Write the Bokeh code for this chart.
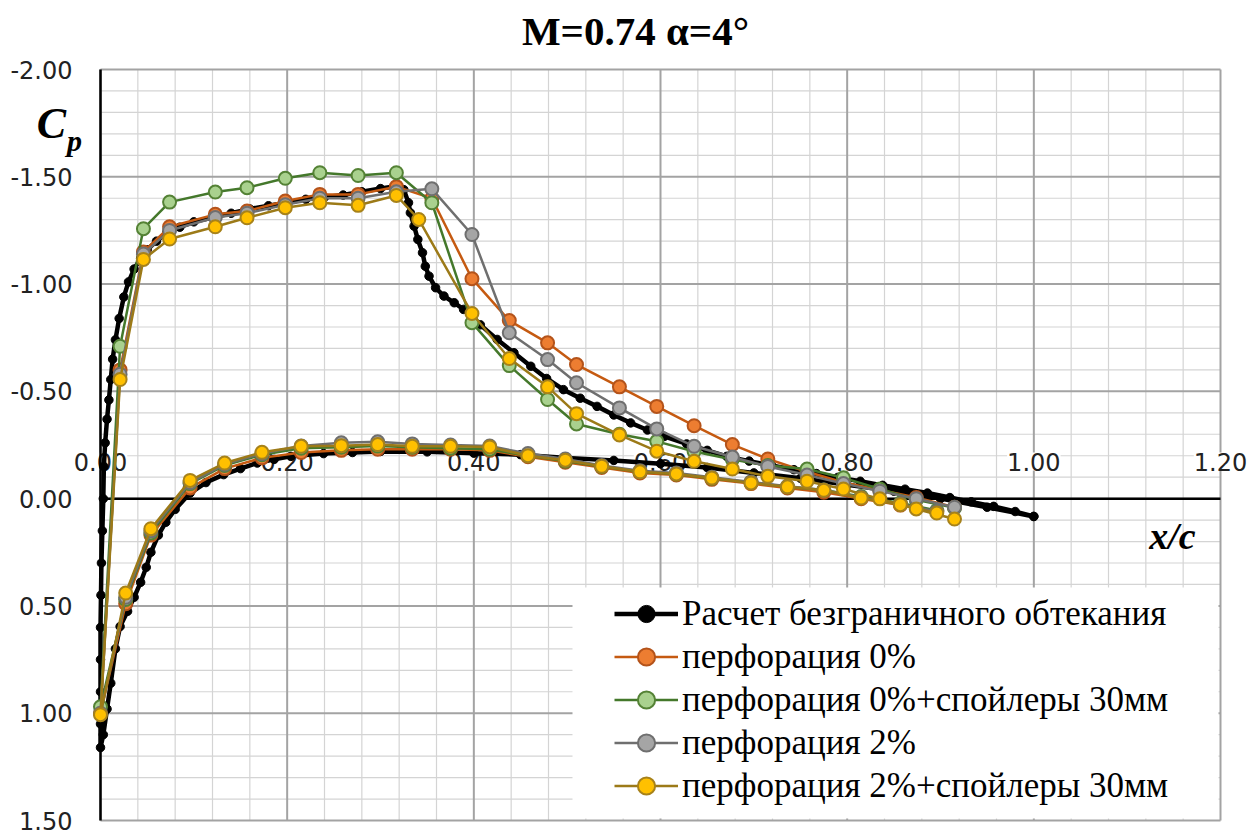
from bokeh.plotting import figure
from bokeh.models import Range1d, ColumnDataSource, Legend, LegendItem, BoxAnnotation
from bokeh.core.properties import value
from bokeh.embed import file_html
from bokeh.resources import INLINE

# ---------------- data ----------------
title_text = "M=0.74 α=4°"
x_ticks = [0.0, 0.2, 0.4, 0.6, 0.8, 1.0, 1.2]
x_tick_labels = ["0.00", "0.20", "0.40", "0.60", "0.80", "1.00", "1.20"]
x_minor = [0.04, 0.08, 0.12, 0.16, 0.24, 0.28, 0.32, 0.36, 0.44, 0.48, 0.52, 0.56,
           0.64, 0.68, 0.72, 0.76, 0.84, 0.88, 0.92, 0.96, 1.04, 1.08, 1.12, 1.16]
y_ticks = [-2.0, -1.5, -1.0, -0.5, 0.0, 0.5, 1.0, 1.5]
y_tick_labels = ["-2.00", "-1.50", "-1.00", "-0.50", "0.00", "0.50", "1.00", "1.50"]
y_minor = [-1.9, -1.8, -1.7, -1.6, -1.4, -1.3, -1.2, -1.1, -0.9, -0.8, -0.7, -0.6,
           -0.4, -0.3, -0.2, -0.1, 0.1, 0.2, 0.3, 0.4, 0.6, 0.7, 0.8, 0.9,
           1.1, 1.2, 1.3, 1.4]

series_names = ["Расчет безграничного обтекания", "перфорация 0%",
                "перфорация 0%+спойлеры 30мм", "перфорация 2%",
                "перфорация 2%+спойлеры 30мм"]

# computed (unbounded flow) - upper surface, ascending x
calc_upper_x = [0.0, 0.0, 0.0, 0.0, 0.0005, 0.001, 0.002, 0.003, 0.0036, 0.005, 0.007, 0.009,
                0.011, 0.013, 0.016, 0.02, 0.025, 0.03, 0.036, 0.043, 0.05, 0.06, 0.071, 0.085,
                0.1, 0.12, 0.14, 0.16, 0.18, 0.2, 0.22, 0.24, 0.26, 0.28, 0.3, 0.315, 0.325,
                0.33, 0.332, 0.336, 0.34, 0.345, 0.348, 0.352, 0.359, 0.368, 0.379, 0.389,
                0.407, 0.425, 0.443, 0.461, 0.478, 0.496, 0.514, 0.532, 0.55, 0.568, 0.586,
                0.604, 0.628, 0.65, 0.671, 0.695, 0.719, 0.743, 0.767, 0.79, 0.814, 0.838,
                0.862, 0.886, 0.91, 0.933, 0.957, 0.98, 1.0]
calc_upper_cp = [1.05, 0.9, 0.75, 0.6, 0.45, 0.3, 0.15, 0.0, -0.15, -0.26, -0.37, -0.46,
                 -0.555, -0.65, -0.74, -0.84, -0.94, -1.01, -1.07, -1.12, -1.16, -1.2, -1.24, -1.265,
                 -1.29, -1.31, -1.33, -1.35, -1.365, -1.38, -1.395, -1.405, -1.415, -1.43, -1.445, -1.455, -1.44,
                 -1.379, -1.332, -1.27, -1.208, -1.146, -1.083, -1.037, -0.983, -0.944, -0.913, -0.882,
                 -0.81, -0.742, -0.68, -0.617, -0.56, -0.508, -0.468, -0.43, -0.39, -0.353, -0.32,
                 -0.29, -0.255, -0.225, -0.197, -0.175, -0.155, -0.135, -0.117, -0.099, -0.081, -0.062,
                 -0.044, -0.026, -0.005, 0.015, 0.036, 0.06, 0.083]
# computed - lower surface, ascending x
calc_lower_x = [0.0, 0.003, 0.007, 0.011, 0.016, 0.021, 0.029, 0.036, 0.043, 0.049, 0.054,
                0.062, 0.07, 0.08, 0.096, 0.113, 0.132, 0.15, 0.168, 0.186, 0.204, 0.239,
                0.27, 0.3, 0.35, 0.4, 0.45, 0.5, 0.55, 0.6, 0.65, 0.7, 0.75, 0.8, 0.85,
                0.9, 0.95, 1.0]
calc_lower_cp = [1.16, 1.1, 0.98, 0.86, 0.7, 0.596, 0.525, 0.46, 0.39, 0.32, 0.25,
                 0.17, 0.11, 0.05, -0.026, -0.075, -0.112, -0.14, -0.166, -0.183, -0.197, -0.21,
                 -0.215, -0.22, -0.218, -0.212, -0.205, -0.19, -0.178, -0.163, -0.145, -0.12, -0.095,
                 -0.065, -0.035, 0.0, 0.04, 0.083]

# experiment: upper-surface taps (ascending x) and lower-surface taps (from leading edge)
upper_x = [0.021, 0.046, 0.074, 0.123, 0.157, 0.198, 0.235, 0.276, 0.317, 0.355, 0.398, 0.438,
           0.479, 0.510, 0.556, 0.596, 0.636, 0.677, 0.715, 0.757, 0.796, 0.835, 0.874, 0.915]
upper_x_p2s = [0.021, 0.046, 0.074, 0.123, 0.157, 0.198, 0.235, 0.276, 0.317, 0.341, 0.398, 0.438,
               0.479, 0.510, 0.556, 0.596, 0.636, 0.677, 0.715, 0.757, 0.796, 0.835, 0.874, 0.915]
lower_x = [0.0, 0.027, 0.054, 0.096, 0.133, 0.173, 0.215, 0.258, 0.297, 0.334, 0.375, 0.417,
           0.458, 0.498, 0.537, 0.578, 0.617, 0.655, 0.697, 0.736, 0.775, 0.815, 0.857, 0.896]

p0_upper = [-0.60, -1.15, -1.267, -1.325, -1.34, -1.387, -1.418, -1.418, -1.454, -1.40, -1.025, -0.83,
            -0.726, -0.625, -0.521, -0.43, -0.34, -0.252, -0.185, -0.125, -0.075, -0.04, -0.005, 0.04]
p0_lower = [1.0, 0.49, 0.17, -0.05, -0.14, -0.19, -0.215, -0.225, -0.23, -0.23, -0.23, -0.225,
            -0.195, -0.17, -0.145, -0.12, -0.11, -0.09, -0.07, -0.05, -0.03, 0.0, 0.03, 0.06]

p0s_upper = [-0.71, -1.258, -1.382, -1.429, -1.449, -1.493, -1.519, -1.506, -1.519, -1.379, -0.82, -0.62,
             -0.462, -0.348, -0.30, -0.267, -0.22, -0.182, -0.154, -0.138, -0.097, -0.045, 0.005, 0.043]
p0s_lower = [0.97, 0.47, 0.16, -0.07, -0.155, -0.205, -0.235, -0.24, -0.245, -0.24, -0.235, -0.23,
             -0.2, -0.175, -0.15, -0.125, -0.115, -0.095, -0.075, -0.055, -0.04, -0.01, 0.02, 0.055]

p2_upper = [-0.58, -1.14, -1.25, -1.31, -1.33, -1.37, -1.40, -1.40, -1.43, -1.444, -1.231, -0.773,
            -0.648, -0.54, -0.423, -0.325, -0.244, -0.194, -0.15, -0.11, -0.07, -0.035, 0.0, 0.04]
p2_lower = [1.0, 0.46, 0.15, -0.075, -0.16, -0.21, -0.245, -0.26, -0.265, -0.255, -0.25, -0.245,
            -0.21, -0.185, -0.155, -0.13, -0.12, -0.1, -0.078, -0.058, -0.04, -0.005, 0.025, 0.06]

p2s_upper = [-0.555, -1.115, -1.21, -1.267, -1.309, -1.356, -1.379, -1.367, -1.413, -1.301, -0.863, -0.653,
             -0.521, -0.396, -0.297, -0.221, -0.174, -0.138, -0.104, -0.081, -0.045, 0.001, 0.048, 0.095]
p2s_lower = [1.007, 0.44, 0.14, -0.085, -0.166, -0.216, -0.244, -0.247, -0.252, -0.244, -0.244, -0.241,
             -0.2, -0.179, -0.151, -0.125, -0.115, -0.096, -0.073, -0.055, -0.039, -0.003, 0.028, 0.067]

# ---------------- layout (canvas pixels) ----------------
W, H = 1259, 834
FL, FR, FT, FB = 100, 1220, 69, 820          # plot-area edges on the canvas
XMIN, XMAX = x_ticks[0], x_ticks[-1]
YMIN, YMAX = y_ticks[0], y_ticks[-1]
ppx = (FR - FL) / (XMAX - XMIN)
ppy = (FB - FT) / (YMAX - YMIN)
x_range = Range1d(XMIN - FL / ppx, XMAX + (W - FR) / ppx)
y_range = Range1d(YMAX + (H - FB) / ppy, YMIN - FT / ppy)   # reversed Cp axis


def dx(px):   # canvas px -> data x
    return XMIN + (px - FL) / ppx


def dy(py):   # canvas px -> data Cp
    return YMIN + (py - FT) / ppy


p = figure(width=W, height=H, output_backend="svg", toolbar_location=None,
           x_range=x_range, y_range=y_range,
           min_border_left=0, min_border_right=0, min_border_top=0, min_border_bottom=0)
p.xaxis.visible = False
p.yaxis.visible = False
p.xgrid.visible = False
p.ygrid.visible = False
p.outline_line_color = None
p.background_fill_color = "white"
p.border_fill_color = "white"

# grid
p.segment(x0=x_minor, y0=[YMIN] * len(x_minor), x1=x_minor, y1=[YMAX] * len(x_minor),
          line_color="#d4d4d4", line_width=1.2)
p.segment(x0=[XMIN] * len(y_minor), y0=y_minor, x1=[XMAX] * len(y_minor), y1=y_minor,
          line_color="#d4d4d4", line_width=1.2)
p.segment(x0=x_ticks, y0=[YMIN] * len(x_ticks), x1=x_ticks, y1=[YMAX] * len(x_ticks),
          line_color="#a3a3a3", line_width=2)
p.segment(x0=[XMIN] * len(y_ticks), y0=y_ticks, x1=[XMAX] * len(y_ticks), y1=y_ticks,
          line_color="#a3a3a3", line_width=2)

# x tick labels at the zero-crossing axis (above it because Cp axis is reversed)
p.text(x=x_ticks, y=[dy(461)] * len(x_ticks), text=x_tick_labels, text_align="center",
       text_baseline="middle", text_font=value("DejaVu Sans"), text_font_size="24px",
       text_color="#222222", background_fill_color="white")
# y tick labels
p.text(x=[dx(72)] * len(y_ticks), y=y_ticks, text=y_tick_labels, text_align="right",
       text_baseline="middle", text_font=value("DejaVu Sans"), text_font_size="24px",
       text_color="#222222")

# axis lines
p.segment(x0=[XMIN], y0=[YMIN], x1=[XMIN], y1=[YMAX], line_color="black", line_width=2.5)
p.segment(x0=[XMIN], y0=[0.0], x1=[XMAX], y1=[0.0], line_color="black", line_width=2.5)

# computed curve
cx = calc_upper_x[::-1] + calc_lower_x
cy = calc_upper_cp[::-1] + calc_lower_cp
calc_src = ColumnDataSource(dict(x=cx, y=cy))
r_calc_l = p.line("x", "y", source=calc_src, line_color="black", line_width=4.5)
r_calc_s = p.scatter("x", "y", source=calc_src, size=8.5, fill_color="black", line_color="black")

exp_specs = [
    (upper_x, p0_upper, p0_lower, "#c55a11", "#ed7d31", "#b4531a"),
    (upper_x, p0s_upper, p0s_lower, "#44782b", "#a9d18e", "#548235"),
    (upper_x, p2_upper, p2_lower, "#6f6f6f", "#a5a5a5", "#6f6f6f"),
    (upper_x_p2s, p2s_upper, p2s_lower, "#9c7a18", "#ffc000", "#a7821a"),
]
items = [LegendItem(label=series_names[0], renderers=[r_calc_l, r_calc_s])]
for i, (ux, up, lo, lc, fc, oc) in enumerate(exp_specs):
    src = ColumnDataSource(dict(x=ux[::-1] + lower_x, y=up[::-1] + lo))
    rl = p.line("x", "y", source=src, line_color=lc, line_width=2.5)
    rs = p.scatter("x", "y", source=src, size=13, fill_color=fc, line_color=oc, line_width=2)
    items.append(LegendItem(label=series_names[i + 1], renderers=[rl, rs]))

# axis titles and chart title
p.text(x=[dx(51)], y=[dy(123)], text=["C"], text_align="center", text_baseline="middle",
       text_font=value("Liberation Serif"), text_font_style="bold italic",
       text_font_size="44px", text_color="black")
p.text(x=[dx(74)], y=[dy(140)], text=["p"], text_align="center", text_baseline="middle",
       text_font=value("Liberation Serif"), text_font_style="bold italic",
       text_font_size="30px", text_color="black")
p.text(x=[dx(1172)], y=[dy(535)], text=["x/c"], text_align="center", text_baseline="middle",
       text_font=value("Liberation Serif"), text_font_style="bold italic",
       text_font_size="38px", text_color="black")
p.text(x=[dx(635)], y=[dy(30)], text=[title_text], text_align="center", text_baseline="middle",
       text_font=value("Liberation Serif"), text_font_style="bold",
       text_font_size="41px", text_color="black")

# white panel behind the legend
p.add_layout(BoxAnnotation(left=dx(572), right=dx(FR - 2), top=dy(587), bottom=dy(FB - 2),
                           fill_color="white", fill_alpha=1.0, line_color=None))

legend = Legend(items=items, location=(614, H - 807), orientation="vertical",
                background_fill_alpha=0, border_line_color=None,
                label_text_font="Liberation Serif", label_text_font_size="35px",
                label_text_color="black", label_standoff=4,
                glyph_width=64, glyph_height=43, label_height=43, spacing=0,
                padding=0, margin=0)
p.add_layout(legend)

open("out.html", "w").write(file_html(p, INLINE))
